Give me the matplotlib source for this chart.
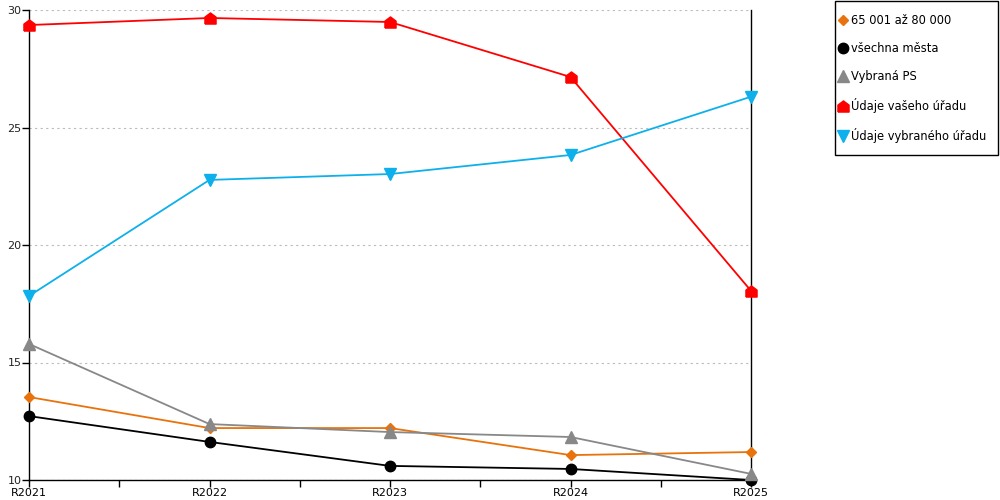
import matplotlib
matplotlib.use("Agg")
import matplotlib.pyplot as plt
from matplotlib.patches import Rectangle

# categories and series values
YEARS = ["R2021", "R2022", "R2023", "R2024", "R2025"]

SERIES_NAMES = [
    "65 001 až 80 000",
    "všechna města",
    "Vybraná PS",
    "Údaje vašeho úřadu",
    "Údaje vybraného úřadu",
]
BAND = [13.53, 12.21, 12.21, 11.06, 11.19]
ALL_CITIES = [12.72, 11.62, 10.60, 10.47, 10.0]
SELECTED_PS = [15.79, 12.38, 12.04, 11.83, 10.26]
YOUR_OFFICE = [29.36, 29.66, 29.49, 27.15, 18.05]
SELECTED_OFFICE = [17.83, 22.77, 23.02, 23.83, 26.31]

Y_TICKS = [10, 15, 20, 25, 30]

# house shaped marker for the red series
HOUSE = [(-1, -1), (1, -1), (1, 0.25), (0, 1), (-1, 0.25), (-1, -1)]

STYLES = [
    dict(color="#e8720c", marker="D", markersize=5.5),
    dict(color="#000000", marker="o", markersize=7.5),
    dict(color="#888888", marker="^", markersize=8),
    dict(color="#ff0000", marker=HOUSE, markersize=8),
    dict(color="#0eb0ec", marker="v", markersize=8),
]

plt.rcParams["font.family"] = ["DejaVu Sans"]

fig = plt.figure(figsize=(10, 5), dpi=100)
ax = fig.add_axes([0.029, 0.04, 0.722, 0.94])

x = list(range(len(YEARS)))
data = [BAND, ALL_CITIES, SELECTED_PS, YOUR_OFFICE, SELECTED_OFFICE]
for name, values, style in zip(SERIES_NAMES, data, STYLES):
    ax.plot(x, values, label=name, linewidth=1.3, clip_on=False, zorder=3, **style)

ax.set_xlim(0, len(YEARS) - 1)
ax.set_ylim(10, 30)
ax.set_xticks(x)
ax.set_xticklabels(YEARS, fontsize=8)
ax.set_xticks([i + 0.5 for i in x[:-1]], minor=True)
ax.set_yticks(Y_TICKS)
ax.set_yticklabels([str(v) for v in Y_TICKS], fontsize=8)
ax.tick_params(axis="both", which="both", direction="out", length=5, width=1, pad=0.5)
ax.tick_params(axis="y", colors="#000000", labelcolor="#222222")

ax.spines["top"].set_visible(False)
for side in ("left", "right", "bottom"):
    ax.spines[side].set_linewidth(1)
    ax.spines[side].set_color("#000000")

ax.grid(axis="y", linestyle=(0, (2, 3)), color="#bbbbbb", linewidth=0.8)
ax.set_axisbelow(True)

# legend box drawn separately so the padding can match the original
fig.patches.append(
    Rectangle((0.835, 0.69), 0.163, 0.308, transform=fig.transFigure,
              fill=False, edgecolor="#000000", linewidth=1)
)
leg = fig.legend(
    loc="upper left",
    bbox_to_anchor=(0.837, 0.976),
    fontsize=8.3,
    frameon=False,
    handlelength=0.6,
    handletextpad=0.45,
    labelspacing=1.3,
    borderpad=0.2,
    borderaxespad=0,
)
for line in leg.get_lines():
    line.set_linestyle("none")

fig.savefig("out.png", dpi=100)
